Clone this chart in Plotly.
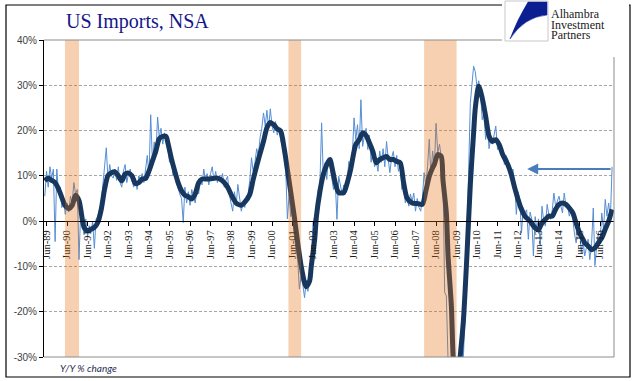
import pandas as pd
import plotly.graph_objects as go

# ---------------- data ----------------
thin_start = "1989-05-01"
thin_values = [
    # 1989 May-Dec
    5.5, 11.0, 7.5, 12.0, 9.5, 11.5, -4.5, 11.5,
    # 1990
    6.0, 7.5, 3.0, 5.0, 1.5, 4.0, 2.0, 5.5, 4.0, 8.5, 6.0, 7.0,
    # 1991
    -8.5, 3.0, -1.0, -3.0, 0.5, -3.5, -1.0, -2.5, 0.0, -6.0, 0.5, 1.0,
    # 1992
    2.5, 4.0, 8.0, 11.8, 16.2, 9.0, 12.5, 10.0, 9.5, 11.5, 9.0, 12.0,
    # 1993
    8.5, 7.5, 11.0, 12.5, 8.5, 10.5, 11.5, 9.0, 7.5, 9.5, 7.0, 10.0,
    # 1994
    9.0, 10.5, 8.5, 11.5, 14.5, 10.0, 23.5, 13.0, 17.5, 15.0, 23.0, 18.5,
    # 1995
    20.5, 17.0, 19.5, 18.0, 16.5, 13.0, 15.5, 10.0, 11.0, 8.5, 7.0, 6.0,
    # 1996
    5.0, -0.3, 7.5, 4.0, 6.5, 3.5, 7.0, 5.5, 4.0, 7.0, 6.0, 9.0,
    # 1997
    8.0, 11.5, 9.0, 10.5, 8.0, 10.5, 12.0, 9.0, 11.0, 8.5, 10.0, 9.0,
    # 1998
    10.5, 7.5, 9.0, 9.9, 6.0, 4.0, 2.2, 6.5, 3.5, 8.1, 4.5, 2.2,
    # 1999
    4.0, 3.0, 5.5, 6.0, 9.0, 14.0, 11.0, 13.0, 16.0, 14.5, 18.5, 20.5,
    # 2000
    23.9, 21.0, 24.5, 20.5, 24.8, 21.0, 19.5, 22.0, 19.0, 20.5, 18.0, 16.5,
    # 2001
    15.0, 11.0, 0.5, 6.0, 1.0, 2.5, -3.0, -6.0, -8.5, -15.0, -12.0, -14.0,
    # 2002
    -16.9, -13.0, -15.5, -12.9, -8.0, -0.4, 1.1, 0.5, 7.0, 8.1, 21.7, 9.9,
    # 2003
    12.9, 9.2, 14.0, 12.0, 9.5, 7.0, 9.0, 0.4, 9.9, 7.7, 6.0, 8.0,
    # 2004
    7.0, 9.5, 13.2, 11.0, 14.5, 22.8, 18.0, 21.3, 16.0, 26.8, 16.5, 18.8,
    # 2005
    20.5, 15.8, 19.0, 13.0, 15.8, 12.0, 13.5, 11.0, 15.5, 13.0, 16.0, 12.0,
    # 2006
    17.6, 13.5, 10.7, 14.0, 15.4, 12.0, 14.5, 11.0, 13.0, 7.0, 9.0, 4.0,
    # 2007
    5.5, 3.3, 6.0, 4.4, 6.2, 2.2, 5.0, 3.0, 2.2, 5.0, 10.7, 8.0,
    # 2008
    12.0, 18.1, 10.0, 15.5, 12.0, 21.6, 15.0, 17.0, 14.0, 11.5, -15.7, -16.5,
    # 2009
    -31.0, -35.0, -33.0, -37.0, -38.0, -35.0, -36.0, -33.0, -33.0, -30.0, -20.0, -5.0,
    # 2010
    10.0, 26.0, 30.0, 34.2, 33.0, 29.5, 31.0, 28.5, 22.4, 24.0, 18.0, 21.0,
    # 2011
    16.0, 18.5, 17.0, 18.8, 21.0, 15.8, 17.5, 15.1, 16.0, 12.5, 14.5, 13.6,
    # 2012
    11.0, 9.9, 11.5, 8.5, 1.5, 6.5, 4.8, -2.6, 3.0, 1.8, 2.5, -4.0,
    # 2013
    2.0, 0.4, -7.7, 1.0, -1.5, 0.5, -5.5, 3.3, 0.0, -1.1, 3.7, 1.5,
    # 2014
    0.4, 2.5, 6.2, 3.3, 4.5, 5.5, 3.5, 1.8, 6.2, 3.5, 3.3, 1.1,
    # 2015
    2.6, 0.5, -2.6, -4.8, -2.0, -1.1, -7.0, -4.0, -7.7, -6.0, -4.0, -8.5,
    # 2016
    -5.0, 2.9, -9.8, -5.5, -2.6, -4.5, 1.8, -1.8, 4.8, 1.1, 4.0, 0.5,
    # 2017
    12.0,
]
thin_dates = pd.date_range(thin_start, periods=len(thin_values), freq="MS")

thick_dates = [
    "1989-05", "1989-07", "1989-09", "1989-11", "1990-01", "1990-03", "1990-05", "1990-07",
    "1990-09", "1990-11", "1991-01", "1991-02", "1991-04", "1991-06", "1991-08", "1991-10",
    "1991-12", "1992-02", "1992-04", "1992-06", "1992-08", "1992-10", "1992-12", "1993-02",
    "1993-04", "1993-06", "1993-08", "1993-10", "1993-12", "1994-02", "1994-04", "1994-06",
    "1994-08", "1994-10", "1994-12", "1995-02", "1995-04", "1995-05", "1995-07", "1995-09",
    "1995-11", "1996-01", "1996-03", "1996-05", "1996-07", "1996-09", "1996-11", "1997-01",
    "1997-04", "1997-07", "1997-10", "1998-01", "1998-04", "1998-06", "1998-09", "1998-12",
    "1999-02", "1999-05", "1999-07", "1999-10", "2000-01", "2000-03", "2000-05", "2000-07",
    "2000-09", "2000-11", "2001-01", "2001-03", "2001-05", "2001-07", "2001-09", "2001-11",
    "2002-01", "2002-02", "2002-04", "2002-05", "2002-07", "2002-08", "2002-10", "2002-12",
    "2003-02", "2003-04", "2003-05", "2003-07", "2003-09", "2003-12", "2004-02", "2004-04",
    "2004-07", "2004-09", "2004-11", "2005-01", "2005-03", "2005-05", "2005-07", "2005-09",
    "2005-11", "2006-01", "2006-03", "2006-05", "2006-07", "2006-09", "2006-11", "2007-01",
    "2007-04", "2007-07", "2007-10", "2007-12", "2008-02", "2008-04", "2008-05", "2008-07",
    "2008-09", "2008-10", "2008-12", "2009-01", "2009-03", "2009-04", "2009-06", "2009-08",
    "2009-10", "2009-12", "2010-02", "2010-04", "2010-05", "2010-07", "2010-09", "2010-11",
    "2011-01", "2011-03", "2011-05", "2011-07", "2011-09", "2011-12", "2012-02", "2012-04",
    "2012-06", "2012-08", "2012-10", "2013-01", "2013-04", "2013-06", "2013-08", "2013-10",
    "2013-12", "2014-02", "2014-04", "2014-06", "2014-08", "2014-10", "2014-12", "2015-02",
    "2015-04", "2015-06", "2015-08", "2015-09", "2015-11", "2016-01", "2016-03", "2016-05",
    "2016-07", "2016-09", "2016-11", "2017-01",
]
thick_values = [
    8.9, 9.5, 9.0, 8.5, 7.1, 5.2, 3.4, 2.8,
    3.5, 5.7, 4.5, 2.6, -1.4, -2.1, -1.8, -1.4,
    -0.3, 2.6, 7.1, 10.1, 10.7, 10.9, 10.0, 8.9,
    10.4, 10.6, 10.0, 8.3, 8.5, 9.3, 9.4, 11.1,
    13.3, 15.5, 18.2, 18.7, 18.7, 17.4, 14.0, 11.1,
    8.5, 6.7, 5.7, 5.4, 4.9, 6.0, 8.5, 9.3,
    9.3, 9.4, 9.5, 8.9, 7.5, 5.9, 4.0, 3.5,
    4.2, 5.9, 9.2, 13.6, 17.6, 20.6, 21.8, 21.3,
    20.4, 19.9, 16.2, 11.4, 6.3, 1.1, -4.8, -9.9,
    -13.6, -14.5, -13.2, -9.9, -4.0, 1.1, 6.5, 10.3,
    12.5, 13.6, 12.1, 8.5, 6.3, 6.3, 8.5, 11.4,
    16.9, 18.0, 19.5, 18.9, 17.3, 15.4, 12.9, 13.6,
    14.0, 14.3, 13.6, 13.6, 13.2, 12.9, 8.5, 5.1,
    4.0, 3.9, 3.7, 6.6, 9.9, 11.8, 12.5, 14.7,
    14.3, 9.2, 1.8, -7.7, -18.8, -29.8, -38.0, -30.4,
    -22.0, -8.0, 8.0, 19.5, 25.0, 29.8, 27.2, 23.2,
    18.8, 17.6, 18.0, 16.9, 14.7, 12.5, 10.3, 7.4,
    4.8, 2.6, 1.1, 0.0, -1.5, -1.8, -0.4, 0.4,
    1.1, 1.1, 2.6, 3.7, 4.0, 3.7, 2.9, 1.8,
    -0.4, -2.6, -4.0, -4.8, -5.5, -6.3, -5.9, -4.8,
    -3.7, -1.8, 0.0, 2.6,
]

recession_starts = ["1990-04-25", "2001-03-20", "2007-11-01"]
recession_ends = ["1991-01-01", "2001-11-01", "2009-06-01"]

y_tick_values = [-30, -20, -10, 0, 10, 20, 30, 40]
y_tick_labels = ["-30%", "-20%", "-10%", "0%", "10%", "20%", "30%", "40%"]

logo_lines = ["Alhambra", "Investment", "Partners"]

arrow_head_date = "2012-11-10"
arrow_level = 11.5

# ---------------- layout geometry ----------------
W, H = 641, 381
ML, MR, MT, MB = 44, 27, 40, 24
PW, PH = W - ML - MR, H - MT - MB
Y_MIN, Y_MAX = -30, 40


def fx(px):
    return (px - ML) / PW


def fy(py):
    return (H - MB - py) / PH


fig = go.Figure()

fig.add_trace(go.Scatter(
    x=thin_dates, y=thin_values, mode="lines",
    line=dict(color="#558ED5", width=1),
    hoverinfo="skip", showlegend=False,
))
fig.add_trace(go.Scatter(
    x=pd.to_datetime(thick_dates), y=thick_values, mode="lines",
    line=dict(color="#17375E", width=5, shape="spline", smoothing=0.7),
    hoverinfo="skip", showlegend=False,
))

shapes = []
# recession bands (semi-transparent, over the lines)
for s, e in zip(recession_starts, recession_ends):
    shapes.append(dict(type="rect", xref="x", yref="paper", x0=s, x1=e, y0=0, y1=1,
                       fillcolor="rgb(228,108,10)", opacity=0.32, line=dict(width=0),
                       layer="above"))
# plot frame (top, right, bottom) in gray
frame_col = "#8C8C8C"
shapes += [
    dict(type="line", xref="paper", yref="paper", x0=0, x1=1, y0=1, y1=1,
         line=dict(color=frame_col, width=1), layer="above"),
    dict(type="line", xref="paper", yref="paper", x0=1, x1=1, y0=0, y1=1,
         line=dict(color=frame_col, width=1), layer="above"),
    dict(type="line", xref="paper", yref="paper", x0=0, x1=1, y0=0, y1=0,
         line=dict(color=frame_col, width=1), layer="above"),
]
# outer black border
shapes.append(dict(type="rect", xref="paper", yref="paper",
                   x0=fx(6), x1=fx(630), y0=fy(377), y1=fy(5),
                   line=dict(color="black", width=1.2), fillcolor="rgba(0,0,0,0)",
                   layer="above"))
# logo background
shapes.append(dict(type="rect", xref="paper", yref="paper",
                   x0=fx(502), x1=fx(629), y0=fy(57), y1=fy(-2),
                   line=dict(width=0), fillcolor="white", layer="above"))
# logo box
shapes.append(dict(type="rect", xref="paper", yref="paper",
                   x0=fx(505), x1=fx(548), y0=fy(41), y1=fy(1),
                   line=dict(color="#C8C8C8", width=1), fillcolor="white", layer="above"))


def pt(px, py):
    return f"{fx(px):.5f},{fy(py):.5f}"


swoosh = (f"M {pt(528, 2)} L {pt(547, 2)} L {pt(547, 15)} "
          f"Q {pt(524, 17)} {pt(510, 39)} Q {pt(517, 20)} {pt(528, 2)} Z")
shapes.append(dict(type="path", xref="paper", yref="paper", path=swoosh,
                   fillcolor="#0B1F91", line=dict(color="#0B1F91", width=0.5),
                   layer="above"))

annotations = [
    dict(text="US Imports, NSA", xref="paper", yref="paper", x=fx(64), y=fy(22),
         xanchor="left", yanchor="middle", showarrow=False,
         font=dict(family="Liberation Serif", size=20, color="#16168A")),
    dict(text="<i>Y/Y % change</i>", xref="paper", yref="paper", x=fx(58), y=fy(368),
         xanchor="left", yanchor="middle", showarrow=False,
         font=dict(family="Lato", size=10, color="#1F2D50")),
    dict(text="", x=arrow_head_date, y=arrow_level, xref="x", yref="y",
         ax=thin_dates[-1], ay=arrow_level, axref="x", ayref="y",
         showarrow=True, arrowhead=2, arrowsize=1.1, arrowwidth=2,
         arrowcolor="#4A7EBB"),
]
for txt, yy in zip(logo_lines, [13.5, 24.5, 35]):
    annotations.append(dict(text=txt, xref="paper", yref="paper", x=fx(550), y=fy(yy),
                            xanchor="left", yanchor="middle", showarrow=False,
                            borderpad=0,
                            font=dict(family="Liberation Serif", size=12, color="#1A1A1A")))

fig.update_layout(
    width=W, height=H,
    margin=dict(l=ML, r=MR, t=MT, b=MB, pad=0),
    paper_bgcolor="white", plot_bgcolor="white",
    shapes=shapes, annotations=annotations,
    showlegend=False,
    xaxis=dict(
        type="date", range=["1989-04-17", "2017-02-04"],
        tick0="1989-06-01", dtick="M12", tickformat="%b-%y", tickangle=-90,
        tickfont=dict(family="Liberation Serif", size=10.5, color="#1A1A1A"),
        ticks="outside", ticklen=4, tickcolor="black", tickwidth=1,
        showline=True, linecolor="black", linewidth=1,
        showgrid=False, zeroline=False,
        anchor="free", position=(0 - Y_MIN) / (Y_MAX - Y_MIN),
    ),
    yaxis=dict(
        range=[Y_MIN, Y_MAX], tickvals=y_tick_values, ticktext=y_tick_labels,
        tickfont=dict(family="Liberation Sans", size=10, color="#404040"),
        ticks="outside", ticklen=4, tickcolor="black", tickwidth=1,
        showline=True, linecolor="black", linewidth=1,
        showgrid=True, gridcolor="#A6A6A6", gridwidth=1, griddash="3px,2px",
        zeroline=False,
    ),
)

fig.write_html("out.html", config={"displayModeBar": False},
               post_script="document.body.style.margin='0';")
